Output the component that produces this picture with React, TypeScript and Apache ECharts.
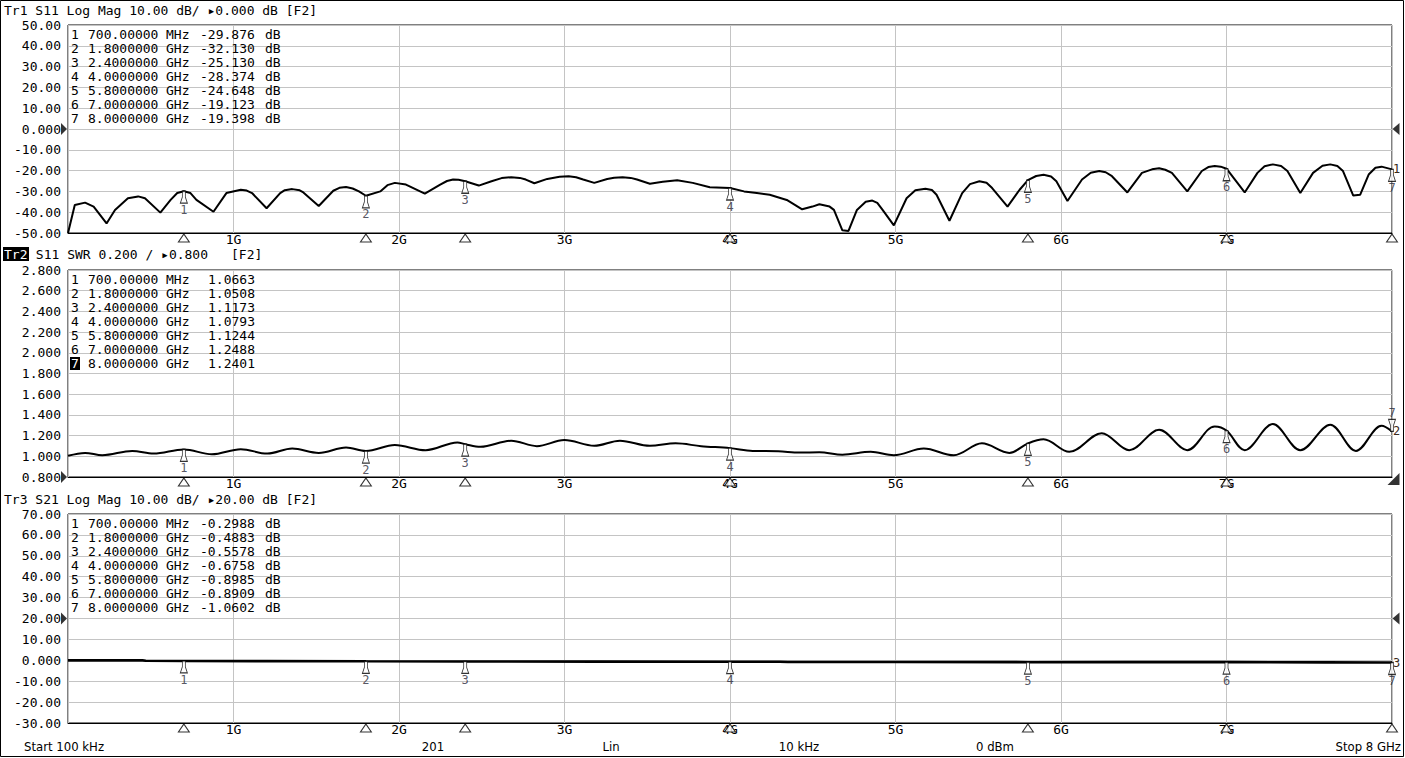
import React, { useEffect, useRef } from 'react';
import * as echarts from 'echarts';

// ---------- data ----------
const markerFreqs = [0.7, 1.8, 2.4, 4.0, 5.8, 7.0, 8.0];
const markerFreqText = ['700.00000', '1.8000000', '2.4000000', '4.0000000', '5.8000000', '7.0000000', '8.0000000'];
const markerUnits = ['MHz', 'GHz', 'GHz', 'GHz', 'GHz', 'GHz', 'GHz'];
const s11MarkerVals = [-29.876, -32.13, -25.13, -28.374, -24.648, -19.123, -19.398];
const swrMarkerVals = [1.0663, 1.0508, 1.1173, 1.0793, 1.1244, 1.2488, 1.2401];
const s21MarkerVals = [-0.2988, -0.4883, -0.5578, -0.6758, -0.8985, -0.8909, -1.0602];

const s11Freq = [0.0001,0.041,0.103,0.155,0.233,0.284,0.362,0.424,0.465,0.558,
  0.620,0.66,0.70,0.74,0.776,0.879,0.957,1.044,1.08,1.112,1.20,1.282,1.31,1.355,1.40,
  1.422,1.515,1.603,1.64,1.680,1.72,1.758,1.80,1.887,1.93,1.975,2.042,2.156,
  2.249,2.29,2.327,2.36,2.40,2.482,2.559,2.62,2.678,2.73,2.766,2.818,2.896,2.97,3.025,3.07,
  3.113,3.180,3.258,3.30,3.351,3.40,3.438,3.516,3.594,3.681,3.775,3.878,
  4.00,4.085,4.162,4.240,4.343,4.436,4.498,4.540,4.602,4.628,
  4.679,4.716,4.767,4.82,4.860,4.89,4.922,4.990,5.067,5.12,5.181,5.22,5.248,5.326,
  5.403,5.45,5.507,5.55,5.584,5.677,5.750,5.80,5.85,5.895,5.94,5.972,6.039,6.127,
  6.18,6.231,6.27,6.308,6.401,6.489,6.55,6.593,6.63,6.670,6.763,6.851,6.89,6.929,6.965,7.00,
  7.11,7.187,7.23,7.280,7.33,7.368,7.446,7.523,7.58,7.627,7.67,7.704,7.766,7.808,
  7.859,7.90,7.937,8.0];
const s11Db = [-50,-36.5,-35.4,-37.3,-45.4,-38.9,-33.3,-32.4,-33.3,-40.2,
  -34.1,-30.8,-29.9,-30.8,-34.1,-39.8,-30.8,-29.2,-29.6,-30.8,-38.1,-30.8,-29.4,-28.9,-29.5,
  -30.5,-37.0,-29.7,-28.3,-27.9,-28.6,-30.0,-32.1,-30.0,-27.0,-25.9,-26.7,-31.1,
  -26.7,-25.0,-24.3,-24.4,-25.1,-27.2,-25.1,-23.6,-23.2,-23.5,-24.3,-26.1,-24.0,-23.0,-22.7,-23.2,
  -24.3,-25.9,-24.0,-23.4,-23.2,-23.5,-24.3,-26.3,-25.4,-24.6,-25.9,-28.0,
  -28.4,-30.0,-30.8,-31.6,-34.1,-38.6,-37.3,-36.2,-37.3,-38.9,
  -48.7,-49.0,-38.9,-35.0,-34.4,-35.5,-38.9,-46.3,-33.3,-29.5,-28.7,-29.3,-31.6,-44.1,
  -30.8,-26.5,-25.1,-25.8,-28.4,-37.3,-29.2,-24.6,-22.6,-22.0,-22.8,-25.1,-34.6,-24.3,
  -21.0,-20.2,-20.8,-22.7,-30.5,-21.1,-19.4,-18.9,-19.6,-21.1,-30.0,-20.2,-18.3,-17.8,-18.1,-19.1,
  -30.5,-21.1,-17.9,-17.0,-17.8,-20.2,-30.8,-21.1,-17.7,-17.0,-17.8,-20.2,-32.0,-31.6,
  -21.9,-18.6,-18.1,-19.4];

const swrFreq = [0.0001,0.103,0.207,0.388,0.517,0.70,0.869,1.044,1.205,1.355,
  1.515,1.680,1.80,1.975,2.161,2.353,2.40,2.492,2.678,2.833,
  2.999,3.180,3.335,3.516,3.671,3.826,4.00,4.137,4.292,4.421,
  4.540,4.679,4.850,4.990,5.171,5.352,5.522,5.688,5.80,5.895,
  6.050,6.246,6.412,6.593,6.763,6.929,7.00,7.11,7.280,7.446,
  7.627,7.782,7.937,8.0];
const swrVals = [1.005,1.033,1.01,1.052,1.026,1.066,1.02,1.069,1.026,1.075,
  1.033,1.085,1.051,1.108,1.059,1.134,1.117,1.092,1.151,1.098,
  1.157,1.102,1.151,1.102,1.125,1.098,1.079,1.052,1.049,1.036,
  1.039,1.016,1.043,1.01,1.075,1.01,1.125,1.033,1.124,1.164,
  1.043,1.223,1.059,1.256,1.059,1.289,1.249,1.059,1.312,1.059,
  1.305,1.052,1.295,1.240];

const s21Freq = [0.0001, 0.45, 0.47, 0.7, 1.2, 1.8, 2.4, 3.2, 4.0, 4.3, 4.35, 5.0, 5.8, 6.4, 7.0, 7.6, 8.0];
const s21Db = [-0.02, -0.05, -0.25, -0.30, -0.40, -0.49, -0.56, -0.62, -0.68, -0.70, -0.78, -0.84, -0.90, -0.87, -0.89, -0.98, -1.06];

const xTickLabels = ['', '1G', '2G', '3G', '4G', '5G', '6G', '7G', ''];
const headers = ['Tr1 S11 Log Mag 10.00 dB/ \u25B80.000 dB [F2]', ' S11 SWR 0.200 / \u25B80.800', 'Tr3 S21 Log Mag 10.00 dB/ \u25B820.00 dB [F2]'];
const footerTexts = ['Start 100 kHz', '201', 'Lin', '10 kHz', '0 dBm', 'Stop 8 GHz'];

// ---------- style ----------
const FONT = '"DejaVu Sans Mono", "Liberation Mono", monospace';
const GRIDC = '#c4c4c4';
const ARROW = 'path://M2 0 L5 0 L5 6 L7 12 L0 12 L2 6 Z';
const RIGHT_TRI = 'path://M0 0 L6 6 L0 12 Z';
const LEFT_TRI = 'path://M6 0 L0 6 L6 12 Z';
const CORNER = 'path://M12 0 L12 12 L0 12 Z';

const panels = [
  { top: 25, height: 208, min: -50, max: 50, interval: 10, fmt: (v: number) => (v === 0 ? '0.000' : v.toFixed(2)), ref: 0, width: 2, smooth: false as any },
  { top: 270, height: 207, min: 0.8, max: 2.8, interval: 0.2, fmt: (v: number) => v.toFixed(3), ref: 0.8, width: 2, smooth: 0.35 as any },
  { top: 514, height: 209, min: -30, max: 70, interval: 10, fmt: (v: number) => (v === 0 ? '0.000' : v.toFixed(2)), ref: 20, width: 2.6, smooth: false as any },
];

function buildOption() {
  const traces = [
    s11Freq.map((f, i) => [f, s11Db[i]]),
    swrFreq.map((f, i) => [f, swrVals[i]]),
    s21Freq.map((f, i) => [f, s21Db[i]]),
  ];
  const markerVals = [s11MarkerVals, swrMarkerVals, s21MarkerVals];

  const grid = panels.map((p) => ({
    left: 68, top: p.top, width: 1324, height: p.height,
    show: true, borderColor: '#000', borderWidth: 1, backgroundColor: '#fff',
  }));
  const xAxis = panels.map((_, i) => ({
    type: 'value', gridIndex: i, min: 0, max: 8, interval: 1,
    axisLine: { show: true, onZero: false, lineStyle: { color: '#000', width: 1 } },
    axisTick: { show: false },
    splitLine: { show: true, lineStyle: { color: GRIDC, width: 1 } },
    axisLabel: {
      margin: 0, color: '#000', fontSize: 13, fontFamily: FONT,
      formatter: (v: number) => xTickLabels[Math.round(v)] || '',
    },
  }));
  const yAxis = panels.map((p, i) => ({
    type: 'value', gridIndex: i, min: p.min, max: p.max, interval: p.interval,
    axisLine: { show: false, onZero: false }, axisTick: { show: false },
    splitLine: { show: true, lineStyle: { color: GRIDC, width: 1 } },
    axisLabel: { margin: 7, color: '#000', fontSize: 13, fontFamily: FONT, formatter: p.fmt },
  }));

  const series: any[] = [];
  panels.forEach((p, i) => {
    series.push({
      type: 'line', xAxisIndex: i, yAxisIndex: i, data: traces[i], showSymbol: false,
      smooth: p.smooth,
      lineStyle: { color: '#000', width: p.width }, itemStyle: { color: '#000' },
      silent: true, z: 3,
      endLabel: { show: true, formatter: String(i + 1), distance: 1, color: '#3a2a1a', fontSize: 12, fontFamily: FONT },
    });
    // trace markers
    series.push({
      type: 'scatter', xAxisIndex: i, yAxisIndex: i, clip: false, silent: true, z: 4,
      data: markerFreqs.map((f, k) => {
        const active = i === 1 && k === 6;
        return {
          value: [f, markerVals[i][k]],
          symbolRotate: active ? 180 : 0,
          symbolOffset: active ? [0, -6] : [0, 6],
          label: { position: active ? 'top' : 'bottom' },
        };
      }),
      symbol: ARROW, symbolSize: [7, 12],
      itemStyle: { color: '#fff', borderColor: '#000', borderWidth: 1 },
      label: {
        show: true, position: 'bottom', distance: 0, color: '#2a2a3a', fontSize: 12, fontFamily: FONT,
        formatter: (d: any) => String(d.dataIndex + 1),
      },
    });
    // stimulus markers below the axis
    const stim = i === 1 ? markerFreqs.slice(0, 6) : markerFreqs;
    series.push({
      type: 'scatter', xAxisIndex: i, yAxisIndex: i, clip: false, silent: true, z: 4,
      data: stim.map((f) => [f, p.min]),
      symbol: 'triangle', symbolSize: [11, 8], symbolOffset: [0, 5],
      itemStyle: { color: '#fff', borderColor: '#000', borderWidth: 1 },
    });
    // reference level indicators
    series.push({
      type: 'scatter', xAxisIndex: i, yAxisIndex: i, clip: false, silent: true, z: 5,
      data: [
        { value: [0, p.ref], symbol: RIGHT_TRI, symbolSize: [6, 12], symbolOffset: [-4, 0] },
        i === 1
          ? { value: [8, p.ref], symbol: CORNER, symbolSize: [12, 12], symbolOffset: [1.5, 2] }
          : { value: [8, p.ref], symbol: LEFT_TRI, symbolSize: [7, 12], symbolOffset: [4, 0] },
      ],
      itemStyle: { color: '#000' },
    });
  });

  // graphic texts
  const g: any[] = [];
  const txt = (text: string, x: number, y: number, opt: any = {}) => ({
    type: 'text', x, y, z: 10, silent: true,
    style: {
      text, fill: opt.fill || '#000', font: opt.font || `13px ${FONT}`,
      textAlign: opt.align || 'left', align: opt.align || 'left',
      textVerticalAlign: 'middle', verticalAlign: 'middle',
    },
  });
  g.push({ type: 'rect', z: 20, silent: true, shape: { x: 0.5, y: 0.5, width: 1403, height: 756 }, style: { fill: 'none', stroke: '#000', lineWidth: 1 } });
  // headers
  g.push(txt(headers[0], 4, 10));
  g.push({ type: 'rect', z: 9, silent: true, shape: { x: 3, y: 247, width: 26, height: 14 }, style: { fill: '#000' } });
  g.push(txt('Tr2', 4, 254, { fill: '#fff' }));
  g.push(txt(headers[1], 28, 254));
  g.push(txt('[F2]', 231, 254));
  g.push(txt(headers[2], 4, 499));
  // marker tables
  const rowTop = [34, 279, 523];
  const valCol = [200, 208, 200];
  const tableVals = [
    s11MarkerVals.map((v) => v.toFixed(3)),
    swrMarkerVals.map((v) => v.toFixed(4)),
    s21MarkerVals.map((v) => v.toFixed(4)),
  ];
  for (let p = 0; p < 3; p++) {
    for (let k = 0; k < 7; k++) {
      const y = rowTop[p] + 14 * k;
      const active = p === 1 && k === 6;
      if (active) g.push({ type: 'rect', z: 9, silent: true, shape: { x: 70, y: y - 6, width: 10, height: 13 }, style: { fill: '#000' } });
      g.push(txt(String(k + 1), 71, y, { fill: active ? '#fff' : '#000' }));
      g.push(txt(markerFreqText[k], 88, y));
      g.push(txt(markerUnits[k], 166, y));
      g.push(txt(tableVals[p][k], valCol[p], y));
      if (p !== 1) g.push(txt('dB', 265, y));
    }
  }
  // footer
  const FF = '13px "DejaVu Sans Condensed", "DejaVu Sans", sans-serif';
  g.push(txt(footerTexts[0], 24, 746, { font: FF }));
  g.push(txt(footerTexts[1], 433, 746, { font: FF, align: 'center' }));
  g.push(txt(footerTexts[2], 611, 746, { font: FF, align: 'center' }));
  g.push(txt(footerTexts[3], 799, 746, { font: FF, align: 'center' }));
  g.push(txt(footerTexts[4], 995, 746, { font: FF, align: 'center' }));
  g.push(txt(footerTexts[5], 1401, 746, { font: FF, align: 'right' }));

  return {
    animation: false,
    backgroundColor: '#fff',
    textStyle: { fontFamily: FONT },
    grid, xAxis, yAxis, series, graphic: g,
  };
}

export default function App() {
  const ref = useRef<HTMLDivElement>(null);
  useEffect(() => {
    const chart = echarts.init(ref.current!, null, { renderer: 'svg' });
    chart.setOption(buildOption() as any);
    return () => chart.dispose();
  }, []);
  return <div ref={ref} style={{ position: 'absolute', left: 0, top: 0, width: 1405, height: 758, background: '#fff' }} />;
}
